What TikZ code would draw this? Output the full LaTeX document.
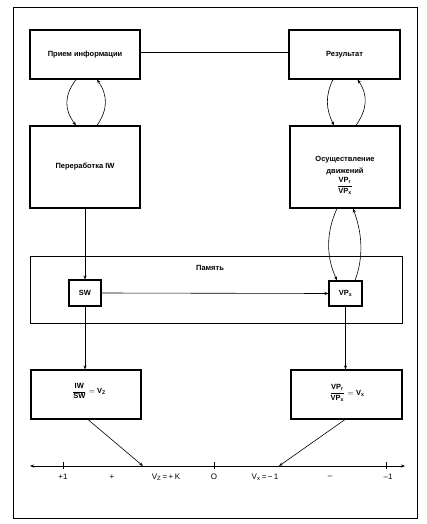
\documentclass[tikz,border=0pt]{standalone}
\usepackage{amsmath}
\usepackage{fontspec}
\setmainfont{Liberation Sans}
\usetikzlibrary{arrows.meta,calc}
\begin{document}
\begin{tikzpicture}[x=1pt,y=-1pt,
  box/.style={draw,line width=1.1pt,inner sep=0pt,align=center,
    font=\fontsize{7.5}{9}\selectfont\bfseries},
  lbl/.style={inner sep=0pt,align=center,font=\fontsize{7.5}{9}\selectfont\bfseries},
  axl/.style={inner sep=0pt,font=\fontsize{8}{10}\selectfont},
  con/.style={line width=0.6pt},
  arr/.style={line width=0.6pt,-{Stealth[length=4pt,width=3pt]}}]
\useasboundingbox (0,0) rectangle (427,524);
\draw[line width=0.8pt] (13,7) rectangle (417,518);
% boxes
\node[box,minimum width=110pt,minimum height=49pt] (pi) at (85,54.5) {Прием информации};
\node[box,minimum width=111pt,minimum height=49pt] (res) at (344.5,54.5) {Результат};
\node[box,minimum width=110pt,minimum height=82pt] (pw) at (85,167) {Переработка IW};
\node[box,minimum width=110pt,minimum height=82pt] (os) at (345,167) {};
\node[lbl] (ostxt) at (345,175) {Осуществление\\[3pt]движений\\[2pt]$\dfrac{\text{VP}_{\text{r}}}{\text{VP}_{\text{x}}}$};
\node[draw,line width=0.8pt,minimum width=372pt,minimum height=67pt] (mem) at (216,289.5) {};
\node[lbl] (memtxt) at (210,268) {Память};
\node[box,minimum width=32pt,minimum height=26pt] (sw) at (85,293) {SW};
\node[box,minimum width=33pt,minimum height=25pt] (vpx) at (345.5,293.5) {VP$_{\text{x}}$};
\node[box,minimum width=110pt,minimum height=49pt] (lb) at (86,394.5) {};
\node[lbl] (lbtxt) at (89,391) {$\dfrac{\text{IW}}{\text{SW}}=\text{V}_{\text{Z}}$};
\node[box,minimum width=111pt,minimum height=49pt] (rb) at (346.5,394.5) {};
\node[lbl] (rbtxt) at (347,393) {$\dfrac{\text{VP}_{\text{r}}}{\text{VP}_{\text{x}}}=\text{V}_{\text{x}}$};
% connectors
\draw[con] ([yshift=2.5pt]pi.east) -- ([yshift=2.5pt]res.west);
\draw[arr] ([xshift=-9pt]pi.south) .. controls +(-12,16) and +(-12,-16) .. ([xshift=-9pt]pw.north);
\draw[arr] ([xshift=12pt]pw.north) .. controls +(11,-16) and +(11,16) .. ([xshift=12pt]pi.south);
\draw[arr] ([xshift=-11.5pt]res.south) .. controls +(-8,16) and +(-8,-16) .. ([xshift=-11pt]os.north);
\draw[arr] ([xshift=11pt]os.north) .. controls +(11,-16) and +(11,16) .. ([xshift=13pt]res.south);
\draw[arr] ([xshift=-8pt]os.south) .. controls +(-11,24) and +(-11,-24) .. ([xshift=-8.5pt]vpx.north);
\draw[arr] ([xshift=9.5pt]vpx.north) .. controls +(9,-24) and +(9,24) .. ([xshift=8pt]os.south);
\draw[arr] (pw.south) -- (sw.north);
\draw[arr] (sw.east) -- (vpx.west);
\draw[arr] (sw.south) -- (sw.south |- lb.north);
\draw[arr] (vpx.south) -- (vpx.south |- rb.north);
% axis
\coordinate (axl) at (30,466);
\coordinate (axr) at (405,466);
\draw[line width=0.7pt,{Stealth[length=4pt,width=3pt]}-{Stealth[length=4pt,width=3pt]}] (axl) -- (axr);
\draw[line width=0.6pt] (63,462) -- (63,469) (214,462) -- (214,469);
\draw[line width=1pt] (386,462) -- (386,469);
\coordinate (vz) at (143,466);
\coordinate (vx) at (279,466);
\draw[arr] ([xshift=2pt]lb.south) -- (vz);
\draw[arr] ([xshift=-1.5pt]rb.south) -- (vx);
\node[axl] (t1) at (63,477) {+1};
\node[axl] (t2) at (112,477) {+};
\node[axl] (t3) at (166,477) {V$_{\text{Z}}$\,=\,+\,K};
\node[axl] (t4) at (214,477) {O};
\node[axl] (t5) at (265,477) {V$_{\text{x}}$\,=\,−\,1};
\node[axl] (t6) at (330,477) {–};
\node[axl] (t7) at (388,477) {–1};
\end{tikzpicture}
\end{document}
